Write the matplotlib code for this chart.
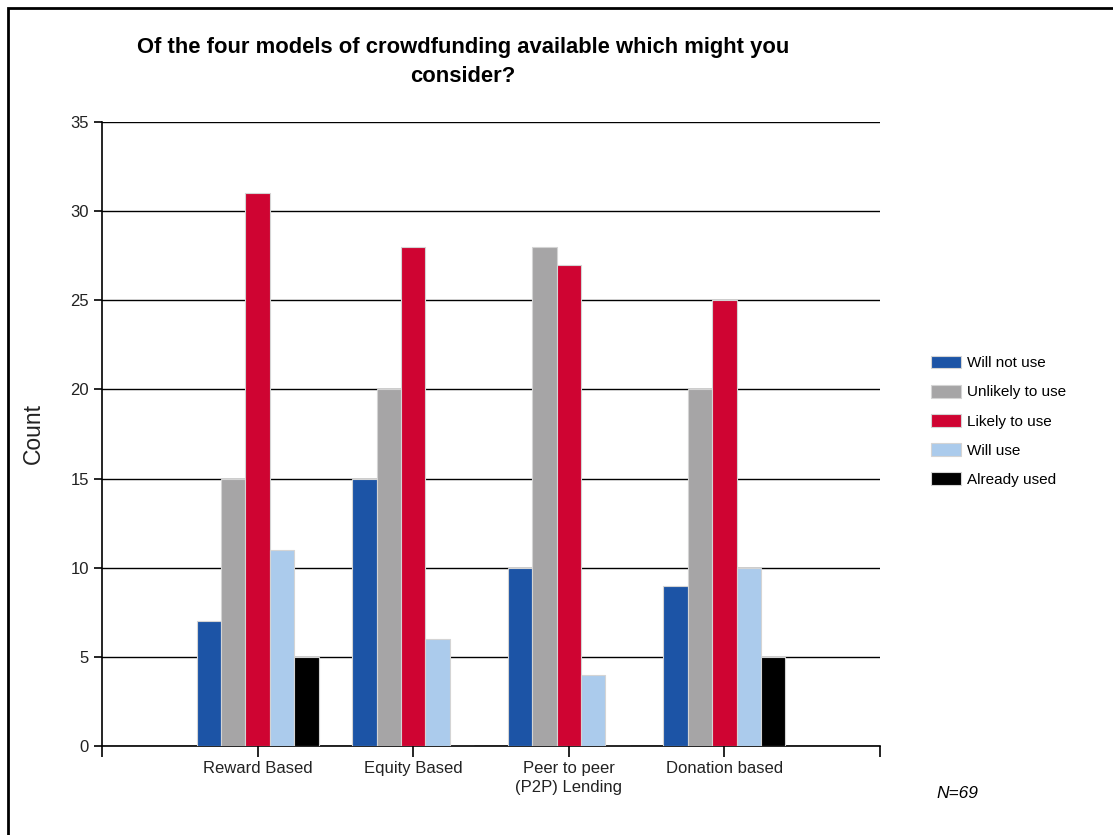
import matplotlib.pyplot as plt
import numpy as np
from matplotlib.patches import Rectangle

# data
categories = ['Reward Based', 'Equity Based', 'Peer to peer\n(P2P) Lending', 'Donation based']
series = ['Will not use', 'Unlikely to use', 'Likely to use', 'Will use', 'Already used']
will_not_use = [7, 15, 10, 9]
unlikely_to_use = [15, 20, 28, 20]
likely_to_use = [31, 28, 27, 25]
will_use = [11, 6, 4, 10]
already_used = [5, 0, 0, 5]

values = [will_not_use, unlikely_to_use, likely_to_use, will_use, already_used]
colors = ['#1c54a6', '#a6a5a6', '#cf0432', '#abcbec', '#000000']

plt.rcParams['font.family'] = ['Liberation Sans', 'DejaVu Sans']

fig = plt.figure(figsize=(11.13, 8.35), dpi=100)
ax = fig.add_axes([102 / 1113, 1 - 746 / 835, 778 / 1113, 624 / 835])

x = np.arange(1, len(categories) + 1)
w = 0.157
for i, (name, vals, c) in enumerate(zip(series, values, colors)):
    ax.bar(x + (i - 2) * w, vals, width=w, color=c, edgecolor='#d4d4d4',
           linewidth=0.8, label=name, zorder=3)

ax.set_xlim(0, 5)
ax.set_ylim(0, 35)
ax.set_yticks(range(0, 36, 5))
ax.set_xticks([0, 1, 2, 3, 4, 5])
ax.set_xticklabels([''] + categories + [''], fontsize=12, color='#222222', linespacing=1.3)
ax.tick_params(axis='x', length=8, width=1.2, pad=3)
ax.tick_params(axis='y', length=6, width=1.2, labelsize=12, labelcolor='#222222')
ax.yaxis.grid(True, color='black', linewidth=1.0, zorder=0)
ax.set_axisbelow(True)
for s in ['top', 'right']:
    ax.spines[s].set_visible(False)
for s in ['left', 'bottom']:
    ax.spines[s].set_linewidth(1.2)
ax.set_ylabel('Count', fontsize=16.5, color='#222222', labelpad=18)

fig.text(463 / 1113, 1 - 62 / 835, 'Of the four models of crowdfunding available which might you\nconsider?',
         ha='center', va='center', fontsize=15.8, fontweight='bold', linespacing=1.45)

fig.legend(loc='upper left', bbox_to_anchor=(917 / 1113, 1 - 342 / 835), frameon=False,
           fontsize=11, handlelength=2.0, handleheight=0.9, labelspacing=0.95,
           handletextpad=0.4)

fig.text(957 / 1113, 1 - 793 / 835, 'N=69', fontsize=12.5, style='italic', ha='center', va='center')

fig.patches.append(Rectangle((8 / 1113, -0.05), 1.0, 1 - 8 / 835 + 0.05, transform=fig.transFigure,
                             fill=False, edgecolor='black', linewidth=2))

fig.savefig('out.png', dpi=100)
